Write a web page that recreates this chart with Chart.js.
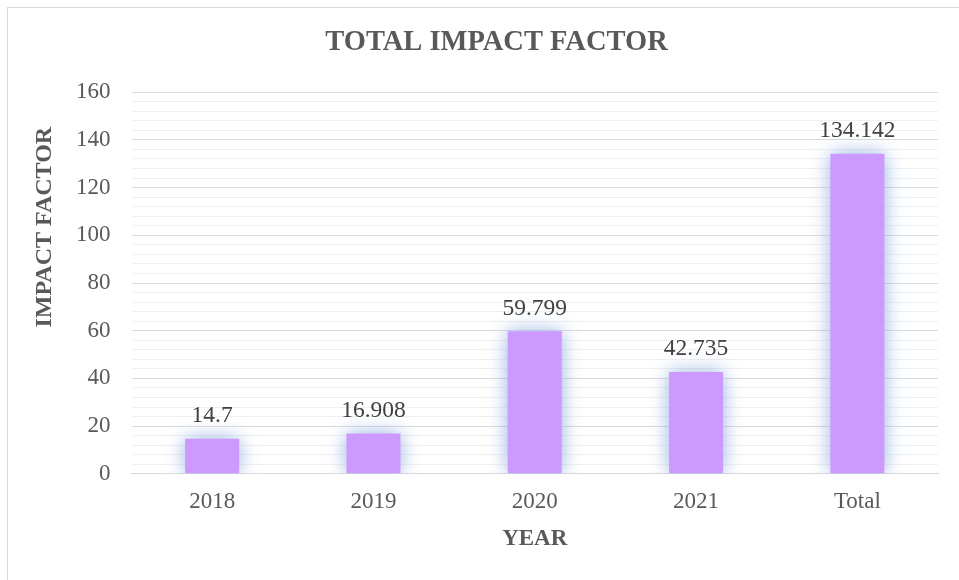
<!DOCTYPE html>
<html>
<head>
<meta charset="utf-8">
<script src="https://cdn.jsdelivr.net/npm/chart.js@4"></script>
<style>
html, body { margin: 0; width: 959px; height: 580px; overflow: hidden; background: #fff; }
#frame { position: absolute; left: 7px; top: 7px; width: 1000px; height: 1000px; border: 1px solid #d9d9d9; }
#wrap { position: absolute; left: 0; top: 0; width: 959px; height: 580px; }
</style>
</head>
<body>
<div id="frame"></div>
<div id="wrap"><canvas id="impactChart" width="959" height="580"></canvas></div>
<script>
const years = ['2018', '2019', '2020', '2021', 'Total'];
const impactFactor = [14.7, 16.908, 59.799, 42.735, 134.142];
const valueLabels = ['14.7', '16.908', '59.799', '42.735', '134.142'];

const serif = "'Liberation Serif', 'Times New Roman', serif";

// soft blue glow behind the bars
const glow = {
    id: 'glow',
    beforeDatasetsDraw(chart) {
        const ctx = chart.ctx;
        ctx.save();
        ctx.shadowColor = 'rgb(150, 178, 225)';
        ctx.shadowBlur = 20;
    },
    afterDatasetsDraw(chart) {
        chart.ctx.restore();
    }
};

// value labels above bars + rotated y title
const labels = {
    id: 'labels',
    afterDraw(chart) {
        const ctx = chart.ctx;
        const meta = chart.getDatasetMeta(0);
        ctx.save();
        ctx.fillStyle = '#404040';
        ctx.font = '23.5px ' + serif;
        ctx.textAlign = 'center';
        ctx.textBaseline = 'bottom';
        meta.data.forEach((bar, i) => {
            ctx.fillText(valueLabels[i], bar.x, bar.y - 11);
        });

        const area = chart.chartArea;
        ctx.translate(area.left - 87, area.top + 135);
        ctx.rotate(-Math.PI / 2);
        ctx.fillStyle = '#595959';
        ctx.font = 'bold 24px ' + serif;
        ctx.textBaseline = 'middle';
        ctx.fillText('IMPACT FACTOR', 0, 0);
        ctx.restore();
    }
};

const ctx = document.getElementById('impactChart').getContext('2d');
new Chart(ctx, {
    type: 'bar',
    data: {
        labels: years,
        datasets: [{
            label: 'Impact Factor',
            data: impactFactor,
            backgroundColor: '#cc99ff',
            borderWidth: 0,
            categoryPercentage: 1,
            barPercentage: 0.335
        }]
    },
    options: {
        responsive: false,
        animation: false,
        layout: { padding: { left: 55, right: 21, top: 26, bottom: 27 } },
        plugins: {
            legend: { display: false },
            tooltip: { enabled: false },
            title: {
                display: true,
                text: 'TOTAL IMPACT FACTOR',
                color: '#595959',
                font: { family: serif, size: 28.5, weight: 'bold' },
                padding: { top: 0, bottom: 32 }
            }
        },
        scales: {
            x: {
                grid: { display: false, drawTicks: false },
                border: { color: '#d9d9d9', width: 1 },
                ticks: { color: '#595959', font: { family: serif, size: 23 }, padding: 14 },
                title: {
                    display: true,
                    text: 'YEAR',
                    color: '#595959',
                    font: { family: serif, size: 23, weight: 'bold' },
                    padding: { top: -4, bottom: 0 }
                }
            },
            y: {
                min: 0,
                max: 160,
                border: { display: false },
                grid: {
                    drawTicks: false,
                    color: c => c.tick.value % 20 === 0 ? '#d9d9d9' : '#f0f0f0',
                    lineWidth: 1
                },
                ticks: {
                    stepSize: 4,
                    autoSkip: false,
                    padding: 21,
                    color: '#595959',
                    font: { family: serif, size: 23 },
                    callback: v => v % 20 === 0 ? v : ''
                }
            }
        }
    },
    plugins: [glow, labels]
});
</script>
</body>
</html>
